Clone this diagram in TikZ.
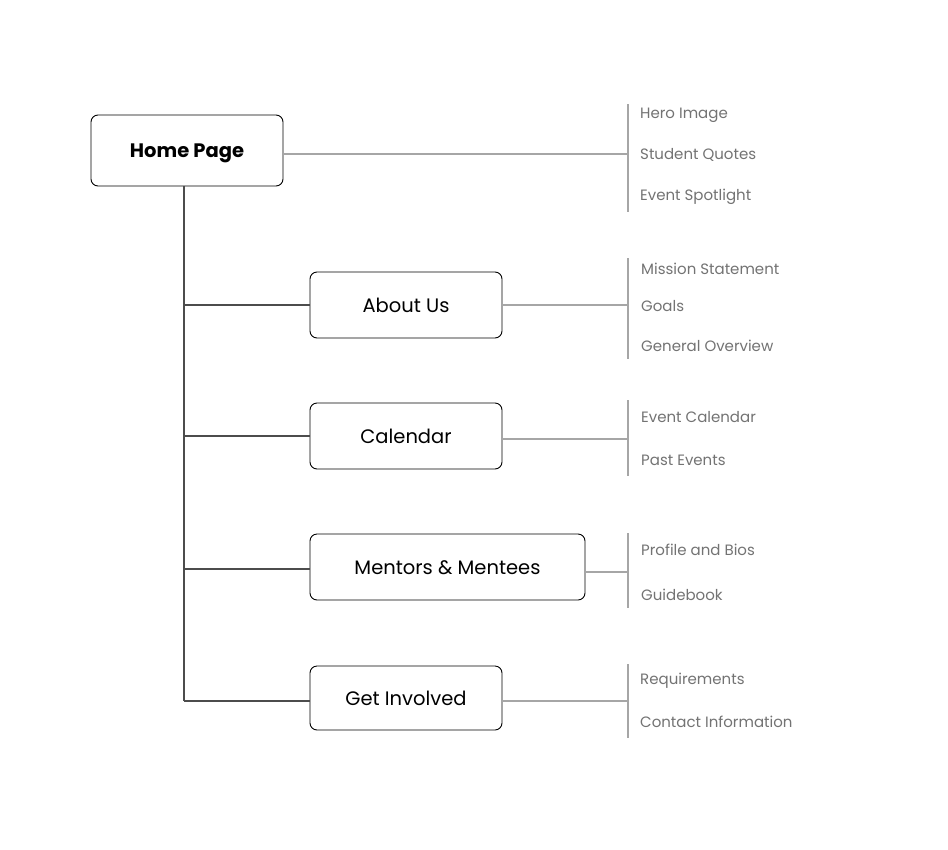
\documentclass[tikz,border=0pt]{standalone}
\usepackage{fontspec}
\setmainfont{Poppins}
\begin{document}
\begin{tikzpicture}[x=1pt,y=-1pt,
  page/.style={draw=black,line width=0.9pt,rounded corners=7pt,fill=white,inner sep=0pt,text height=14pt,text depth=0pt,font=\fontsize{19.5}{22}\selectfont},
  item/.style={anchor=west,inner sep=0pt,text=black!55,font=\fontsize{15}{18}\selectfont},
  trunk/.style={draw=black!70,line width=1.2pt},
  link/.style={draw=black!35,line width=1.2pt},
  bar/.style={draw=black!35,line width=1.6pt}]
\useasboundingbox[fill=white] (0,0) rectangle (948,849);

% main pages
\node[page,minimum width=192pt,minimum height=71pt,font=\fontsize{19.5}{22}\selectfont\bfseries] (home) at (187,150.5) {Home Page};
\node[page,minimum width=192pt,minimum height=66pt] (about) at (406,305) {About Us};
\node[page,minimum width=192pt,minimum height=66pt] (cal) at (406,436) {Calendar};
\node[page,minimum width=275pt,minimum height=66pt] (ment) at (447.5,567) {Mentors \& Mentees};
\node[page,minimum width=192pt,minimum height=64pt] (inv) at (406,698) {Get Involved};

% trunk from the home page down to the sub pages
\coordinate (ttop) at (184,186);
\coordinate (t1) at (184,305);
\coordinate (t2) at (184,436);
\coordinate (t3) at (184,569);
\coordinate (tbot) at (184,701);
\draw[trunk] (ttop) -- (tbot);
\draw[trunk] (t1) -- (t1 -| about.west);
\draw[trunk] (t2) -- (t2 -| cal.west);
\draw[trunk] (t3) -- (t3 -| ment.west);
\draw[trunk] (tbot) -- (tbot -| inv.west);

% section lists
\coordinate (b0t) at (628,104); \coordinate (b0b) at (628,212);
\coordinate (b1t) at (628,258); \coordinate (b1b) at (628,359);
\coordinate (b2t) at (628,400); \coordinate (b2b) at (628,476);
\coordinate (b3t) at (628,533); \coordinate (b3b) at (628,608);
\coordinate (b4t) at (628,664); \coordinate (b4b) at (628,738);
\foreach \i in {0,...,4} \draw[bar] (b\i t) -- (b\i b);

\coordinate (j0) at (628,154);
\coordinate (j1) at (628,305);
\coordinate (j2) at (628,439);
\coordinate (j3) at (628,572);
\coordinate (j4) at (628,701);
\draw[link] (j0 -| home.east) -- (j0);
\draw[link] (j1 -| about.east) -- (j1);
\draw[link] (j2 -| cal.east) -- (j2);
\draw[link] (j3 -| ment.east) -- (j3);
\draw[link] (j4 -| inv.east) -- (j4);

\node[item] (h1) at (640,115) {Hero Image};
\node[item] (h2) at (640,155) {Student Quotes};
\node[item] (h3) at (640,197) {Event Spotlight};
\node[item] (a1) at (641,269) {Mission Statement};
\node[item] (a2) at (641,306) {Goals};
\node[item] (a3) at (641,346) {General Overview};
\node[item] (c1) at (641,417) {Event Calendar};
\node[item] (c2) at (641,460) {Past Events};
\node[item] (m1) at (641,550) {Profile and Bios};
\node[item] (m2) at (641,595) {Guidebook};
\node[item] (g1) at (640,681) {Requirements};
\node[item] (g2) at (640,722) {Contact Information};
\end{tikzpicture}
\end{document}
